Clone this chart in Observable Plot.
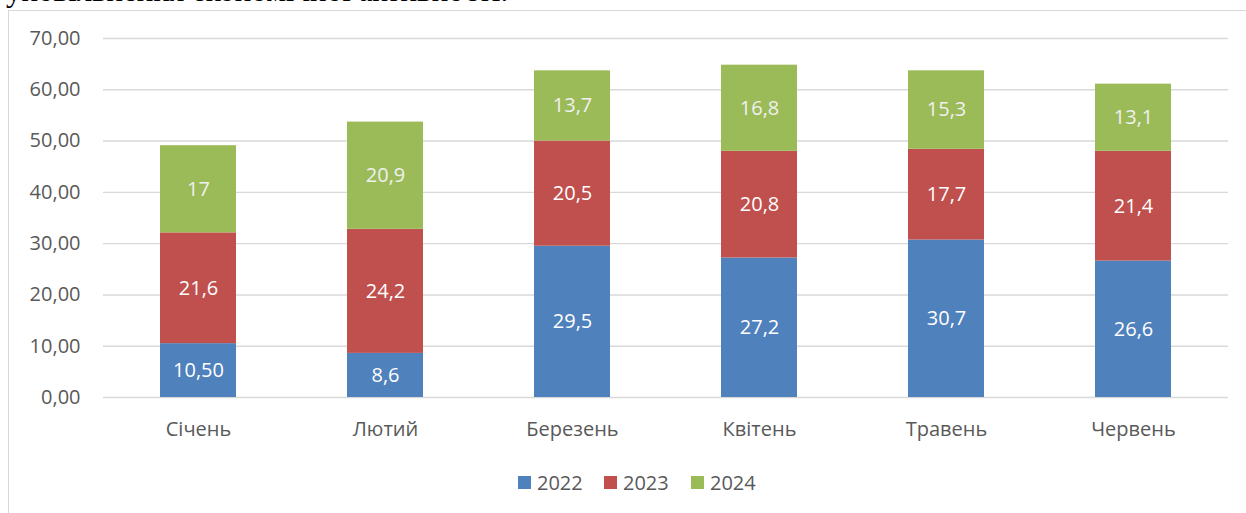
<!DOCTYPE html>
<html>
<head>
<meta charset="utf-8">
<script src="https://cdn.jsdelivr.net/npm/d3@7"></script>
<script src="https://cdn.jsdelivr.net/npm/@observablehq/plot@0.6"></script>
<style>
  html, body { margin: 0; padding: 0; background: #fff; }
  #wrap { position: relative; width: 1246px; height: 513px; overflow: hidden; font-family: "Open Sans", sans-serif; }
  #cut { position: absolute; left: 6px; top: -25px; font-family: "Liberation Serif", "Times New Roman", serif; font-size: 31px; line-height: 31px; color: #000; white-space: nowrap; }
  #frame { position: absolute; left: 8px; top: 10px; width: 1300px; height: 600px; border-left: 1.5px solid #d9d9d9; border-top: 1.5px solid #d9d9d9; box-sizing: border-box; background: #fff; }
  #chart { position: absolute; left: 0; top: 0; }
  #chart svg { background: transparent; }
  #legend { position: absolute; top: 470px; left: 0; width: 1246px; height: 24px; }
  .item { position: absolute; top: 0; height: 24px; display: flex; align-items: center; font-size: 20px; color: #595959; }
  .sw { width: 13px; height: 13px; margin-right: 6px; }
</style>
</head>
<body>
<div id="wrap">
  <div id="cut">уповільнення економічної активності.</div>
  <div id="frame"></div>
  <div id="chart"></div>
  <div id="legend"></div>
</div>
<script>
const months = ["Січень", "Лютий", "Березень", "Квітень", "Травень", "Червень"];
const series = ["2022", "2023", "2024"];
const colors = ["#4F81BD", "#C0504D", "#9BBB59"];
const labelColors = ["#ffffff", "#ffffff", "#f0f0f0"];
const values2022 = [10.5, 8.6, 29.5, 27.2, 30.7, 26.6];
const values2023 = [21.6, 24.2, 20.5, 20.8, 17.7, 21.4];
const values2024 = [17.0, 20.9, 13.7, 16.8, 15.3, 13.1];
const labels2022 = ["10,50", "8,6", "29,5", "27,2", "30,7", "26,6"];
const labels2023 = ["21,6", "24,2", "20,5", "20,8", "17,7", "21,4"];
const labels2024 = ["17", "20,9", "13,7", "16,8", "15,3", "13,1"];
const yTicks = [0, 10, 20, 30, 40, 50, 60, 70];
const yTickLabels = ["0,00", "10,00", "20,00", "30,00", "40,00", "50,00", "60,00", "70,00"];

const seriesValues = [values2022, values2023, values2024];
const seriesLabels = [labels2022, labels2023, labels2024];
const data = [];
series.forEach((s, si) => months.forEach((m, mi) => data.push({
  month: m, series: s, value: seriesValues[si][mi], label: seriesLabels[si][mi], lc: labelColors[si]
})));

const stackOpts = {x: "month", y: "value", z: "series", order: series};

const chart = Plot.plot({
  width: 1246,
  height: 513,
  marginLeft: 103,
  marginRight: 18,
  marginTop: 38,
  marginBottom: 116,
  style: {fontFamily: "'Open Sans', sans-serif", fontSize: "20px", color: "#595959", background: "transparent"},
  x: {domain: months, paddingInner: 0.595, paddingOuter: 0.2975, label: null},
  y: {domain: [0, 70], label: null},
  color: {domain: series, range: colors},
  marks: [
    Plot.ruleY(yTicks, {stroke: "#d9d9d9", strokeWidth: 1.4}),
    Plot.axisY({ticks: yTicks, tickFormat: (d) => yTickLabels[yTicks.indexOf(d)], tickSize: 0, tickPadding: 23, label: null, fontSize: 20, fill: "#595959"}),
    Plot.axisX({tickSize: 0, tickPadding: 24, label: null, fontSize: 20, fill: "#595959"}),
    Plot.barY(data, Plot.stackY({...stackOpts, fill: "series"})),
    Plot.text(data, Plot.stackY({...stackOpts, text: "label", fill: "lc", fontSize: 20}))
  ]
});
document.getElementById("chart").appendChild(chart);

// Legend
const legend = document.getElementById("legend");
const legendX = [518, 604, 691];
series.forEach((s, i) => {
  const item = document.createElement("div");
  item.className = "item";
  item.style.left = legendX[i] + "px";
  const sw = document.createElement("div");
  sw.className = "sw";
  sw.style.background = colors[i];
  const t = document.createElement("span");
  t.textContent = s;
  item.appendChild(sw);
  item.appendChild(t);
  legend.appendChild(item);
});
</script>
</body>
</html>
